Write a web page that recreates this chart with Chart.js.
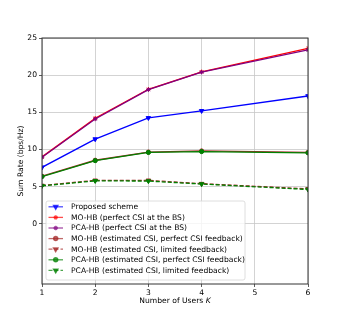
<!DOCTYPE html>
<html>
<head>
<meta charset="utf-8">
<script src="https://cdn.jsdelivr.net/npm/chart.js@4"></script>
<style>
  html, body { margin: 0; padding: 0; background: #fff; }
  #wrap { width: 343px; height: 319px; }
</style>
</head>
<body>
<div id="wrap"><canvas id="chart" width="343" height="319"></canvas></div>
<script>
const users = [1, 2, 3, 4, 6];
const xTicks = [1, 2, 3, 4, 5, 6];
const yTicks = [0, 5, 10, 15, 20, 25];

const proposed = [7.6, 11.4, 14.25, 15.2, 17.2];
const moPerfect = [9.0, 14.2, 18.1, 20.45, 23.6];
const pcaPerfect = [8.95, 14.1, 18.05, 20.4, 23.4];
const moEstPerfect = [6.4, 8.55, 9.65, 9.8, 9.6];
const moEstLimited = [5.15, 5.85, 5.85, 5.4, 4.7];
const pcaEstPerfect = [6.35, 8.5, 9.6, 9.72, 9.55];
const pcaEstLimited = [5.1, 5.78, 5.75, 5.35, 4.62];

const labels = [
    'Proposed scheme',
    'MO-HB (perfect CSI at the BS)',
    'PCA-HB (perfect CSI at the BS)',
    'MO-HB (estimated CSI, perfect CSI feedback)',
    'MO-HB (estimated CSI, limited feedback)',
    'PCA-HB (estimated CSI, perfect CSI feedback)',
    'PCA-HB (estimated CSI, limited feedback)'
];

const FONT = '"DejaVu Sans", sans-serif';
const FS = 7.6;

function series(i, values, color, marker, dashed) {
    return {
        label: labels[i],
        data: users.map((k, j) => ({ x: k, y: values[j] })),
        borderColor: color,
        backgroundColor: color,
        pointBorderColor: color,
        pointBackgroundColor: color,
        borderWidth: 1.3,
        borderDash: dashed ? [4, 2] : [],
        pointStyle: marker.style,
        rotation: marker.rotation || 0,
        pointRadius: marker.radius,
        pointBorderWidth: 1,
        order: 10 - i,
        tension: 0
    };
}

const triDown = { style: 'triangle', rotation: 180, radius: 2.6 };
const star = { style: 'star', radius: 2.2 };
const dot = { style: 'circle', radius: 2.1 };

const datasets = [
    series(0, proposed, '#0000ff', triDown, false),
    series(1, moPerfect, '#ff0000', star, false),
    series(2, pcaPerfect, '#800080', star, false),
    series(3, moEstPerfect, '#a52a2a', dot, false),
    series(4, moEstLimited, '#a52a2a', triDown, true),
    series(5, pcaEstPerfect, '#008000', dot, false),
    series(6, pcaEstLimited, '#008000', triDown, true)
];

// frame, x title with italic K, and legend drawn inside the axes
const framePlugin = {
    id: 'frame',
    afterDatasetsDraw(chart) {
        const { ctx, chartArea: a } = chart;
        ctx.save();
        ctx.strokeStyle = '#333';
        ctx.lineWidth = 1;
        ctx.strokeRect(a.left, a.top, a.right - a.left, a.bottom - a.top);

        // x axis title
        const upright = FS + 'px ' + FONT;
        const italic = 'italic ' + FS + 'px ' + FONT;
        ctx.fillStyle = '#000';
        ctx.textBaseline = 'middle';
        ctx.textAlign = 'left';
        ctx.font = upright;
        const part1 = 'Number of Users ';
        const w1 = ctx.measureText(part1).width;
        ctx.font = italic;
        const w2 = ctx.measureText('K').width;
        const x0 = (a.left + a.right) / 2 - (w1 + w2) / 2;
        ctx.font = upright;
        ctx.fillText(part1, x0, 301);
        ctx.font = italic;
        ctx.fillText('K', x0 + w1, 301);

        // legend box
        const bx = 46, by = 201, bw = 199, bh = 79;
        ctx.globalAlpha = 0.8;
        ctx.fillStyle = '#fff';
        ctx.beginPath();
        ctx.roundRect(bx, by, bw, bh, 2);
        ctx.fill();
        ctx.globalAlpha = 1;
        ctx.strokeStyle = '#d6d6d6';
        ctx.lineWidth = 0.8;
        ctx.stroke();

        ctx.font = upright;
        datasets.forEach((ds, i) => {
            const y = 206.8 + i * 10.6;
            ctx.globalAlpha = 0.7;
            ctx.strokeStyle = ds.borderColor;
            ctx.lineWidth = 1.3;
            ctx.setLineDash(ds.borderDash);
            ctx.beginPath();
            ctx.moveTo(48.5, y);
            ctx.lineTo(63, y);
            ctx.stroke();
            ctx.setLineDash([]);
            ctx.fillStyle = ds.borderColor;
            Chart.helpers.drawPoint(ctx, {
                pointStyle: ds.pointStyle,
                rotation: ds.rotation,
                radius: ds.pointRadius,
                borderWidth: 1
            }, 55.7, y);
            ctx.globalAlpha = 1;
            ctx.fillStyle = '#000';
            ctx.fillText(ds.label, 71, y + 0.5);
        });
        ctx.restore();
    }
};

const ctx = document.getElementById('chart').getContext('2d');
const chart = new Chart(ctx, {
    type: 'line',
    data: { datasets: datasets },
    plugins: [framePlugin],
    options: {
        responsive: false,
        animation: false,
        layout: { padding: { left: 16, right: 35, top: 38, bottom: 0 } },
        plugins: {
            legend: { display: false },
            tooltip: { enabled: false }
        },
        scales: {
            x: {
                type: 'linear',
                min: 1,
                max: 6,
                afterBuildTicks: (s) => { s.ticks = xTicks.map(v => ({ value: v })); },
                afterFit: (s) => { s.height = 35; },
                grid: { color: '#c8c8c8', lineWidth: 0.8, tickLength: 3, tickColor: '#333' },
                border: { display: false },
                ticks: {
                    color: '#000',
                    font: { family: FONT, size: FS },
                    padding: 1,
                    maxRotation: 0
                },
                title: { display: false }
            },
            y: {
                min: -8.1,
                max: 25,
                afterBuildTicks: (s) => { s.ticks = yTicks.map(v => ({ value: v })); },
                afterFit: (s) => { s.width = 26; },
                grid: { color: '#c8c8c8', lineWidth: 0.8, tickLength: 3, tickColor: '#333' },
                border: { display: false },
                ticks: {
                    color: '#000',
                    font: { family: FONT, size: FS },
                    padding: 2
                },
                title: {
                    display: true,
                    text: 'Sum Rate (bps/Hz)',
                    color: '#000',
                    font: { family: FONT, size: FS },
                    padding: { top: 0, bottom: 0 }
                }
            }
        }
    }
});
</script>
</body>
</html>
